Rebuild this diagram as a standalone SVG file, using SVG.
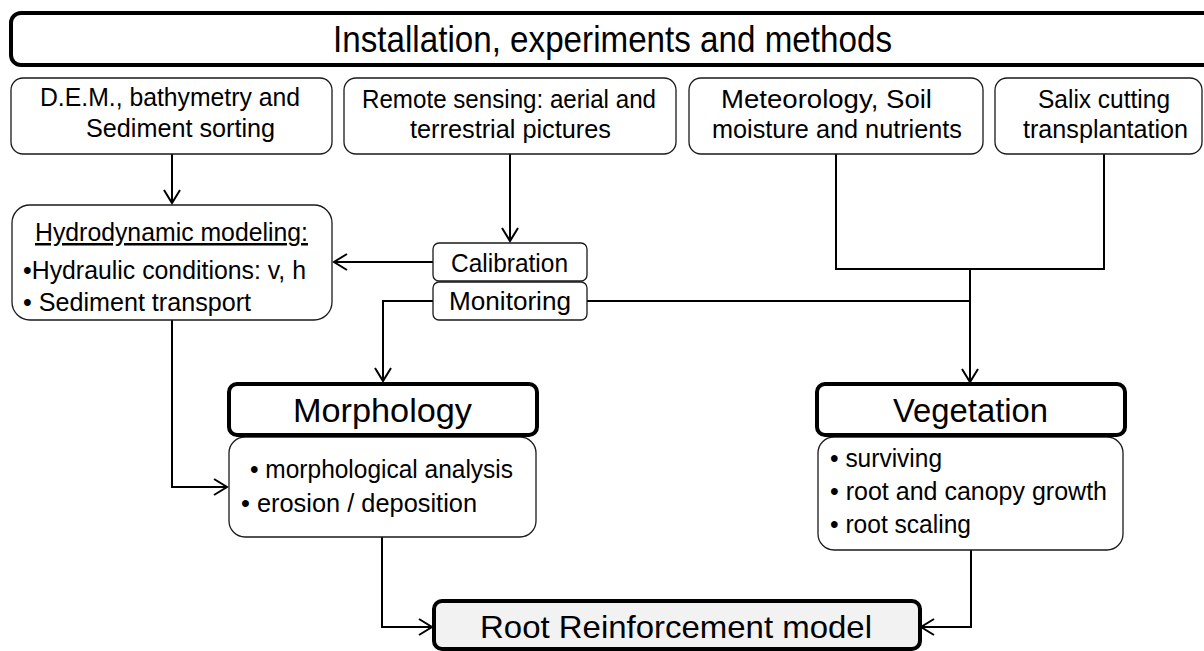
<svg xmlns="http://www.w3.org/2000/svg" width="1204" height="651" viewBox="0 0 1204 651">
<style>
text{font-family:"Liberation Sans",Arial,sans-serif;fill:#000}
.t{font-size:25px}
.big{font-size:34px}
.ban{font-size:36px}
.thin{fill:#fff;stroke:#1a1a1a;stroke-width:1.3}
.thick{fill:#fff;stroke:#000;stroke-width:4}
.con{fill:none;stroke:#000;stroke-width:2}
</style>
<defs>
<marker id="arr" markerUnits="userSpaceOnUse" viewBox="0 0 16 18" markerWidth="16" markerHeight="18" refX="14" refY="9" orient="auto">
<path d="M1,1 L14,9 L1,17" fill="none" stroke="#000" stroke-width="2"/>
</marker>
</defs>
<rect width="1204" height="651" fill="#fff"/>
<g id="connectors">
<path class="con" d="M172,154 V203" marker-end="url(#arr)"/>
<path class="con" d="M510,154 V241" marker-end="url(#arr)"/>
<path class="con" d="M433,262 H334" marker-end="url(#arr)"/>
<path class="con" d="M433,301 H383 V381" marker-end="url(#arr)"/>
<path class="con" d="M587,301 H970"/>
<path class="con" d="M836,154 V269 H1104 V154"/>
<path class="con" d="M970,269 V382" marker-end="url(#arr)"/>
<path class="con" d="M172,320 V487 H227" marker-end="url(#arr)"/>
<path class="con" d="M382,537 V627 H432" marker-end="url(#arr)"/>
<path class="con" d="M971,550 V627 H921" marker-end="url(#arr)"/>
</g>
<g id="banner">
<rect x="11" y="13" width="1215" height="52" rx="10" fill="#fff" stroke="#000" stroke-width="4"/>
<text class="ban" x="333" y="52" textLength="559" lengthAdjust="spacingAndGlyphs">Installation, experiments and methods</text>
</g>
<g id="dem">
<rect class="thin" x="11" y="78" width="321" height="76" rx="12"/>
<text class="t" x="40" y="106" textLength="260" lengthAdjust="spacingAndGlyphs">D.E.M., bathymetry and</text>
<text class="t" x="86" y="137" textLength="189" lengthAdjust="spacingAndGlyphs">Sediment sorting</text>
</g>
<g id="remote">
<rect class="thin" x="344" y="78" width="332" height="76" rx="12"/>
<text class="t" x="362" y="108" textLength="294" lengthAdjust="spacingAndGlyphs">Remote sensing: aerial and</text>
<text class="t" x="410" y="138" textLength="201" lengthAdjust="spacingAndGlyphs">terrestrial pictures</text>
</g>
<g id="meteo">
<rect class="thin" x="689" y="78" width="294" height="76" rx="12"/>
<text class="t" x="721" y="108" textLength="211" lengthAdjust="spacingAndGlyphs">Meteorology, Soil</text>
<text class="t" x="712" y="138" textLength="250" lengthAdjust="spacingAndGlyphs">moisture and nutrients</text>
</g>
<g id="salix">
<rect class="thin" x="995" y="78" width="207" height="76" rx="12"/>
<text class="t" x="1038" y="108" textLength="132" lengthAdjust="spacingAndGlyphs">Salix cutting</text>
<text class="t" x="1023" y="138" textLength="165" lengthAdjust="spacingAndGlyphs">transplantation</text>
</g>
<g id="hydro">
<rect class="thin" x="12" y="205" width="320" height="115" rx="18"/>
<text class="t" x="35" y="241" textLength="273" lengthAdjust="spacingAndGlyphs" text-decoration="underline">Hydrodynamic modeling:</text>
<text class="t" x="23" y="279" textLength="283" lengthAdjust="spacingAndGlyphs">•Hydraulic conditions: v, h</text>
<text class="t" x="23" y="311" textLength="228" lengthAdjust="spacingAndGlyphs">• Sediment transport</text>
</g>
<g id="calibration">
<rect class="thin" x="433" y="243" width="154" height="38" rx="6"/>
<text class="t" x="451" y="272" textLength="117" lengthAdjust="spacingAndGlyphs">Calibration</text>
</g>
<g id="monitoring">
<rect class="thin" x="433" y="282" width="154" height="38" rx="6"/>
<text class="t" x="449" y="310" textLength="122" lengthAdjust="spacingAndGlyphs">Monitoring</text>
</g>
<g id="morphology">
<rect class="thin" x="229" y="437" width="307" height="100" rx="16"/>
<rect class="thick" x="229" y="384" width="308" height="51" rx="8"/>
<text class="big" x="293" y="422" textLength="179" lengthAdjust="spacingAndGlyphs">Morphology</text>
<text class="t" x="250" y="478" textLength="263" lengthAdjust="spacingAndGlyphs">• morphological analysis</text>
<text class="t" x="241" y="512" textLength="236" lengthAdjust="spacingAndGlyphs">• erosion / deposition</text>
</g>
<g id="vegetation">
<rect class="thin" x="818" y="437" width="305" height="113" rx="16"/>
<rect class="thick" x="817" y="384" width="308" height="51" rx="8"/>
<text class="big" x="893" y="422" textLength="155" lengthAdjust="spacingAndGlyphs">Vegetation</text>
<text class="t" x="830" y="467" textLength="112" lengthAdjust="spacingAndGlyphs">• surviving</text>
<text class="t" x="830" y="500" textLength="277" lengthAdjust="spacingAndGlyphs">• root and canopy growth</text>
<text class="t" x="830" y="533" textLength="141" lengthAdjust="spacingAndGlyphs">• root scaling</text>
</g>
<g id="root">
<rect x="434" y="601" width="486" height="48" rx="8" fill="#f2f2f2" stroke="#000" stroke-width="4"/>
<text font-size="32" x="480" y="638" textLength="392" lengthAdjust="spacingAndGlyphs">Root Reinforcement model</text>
</g>
</svg>
